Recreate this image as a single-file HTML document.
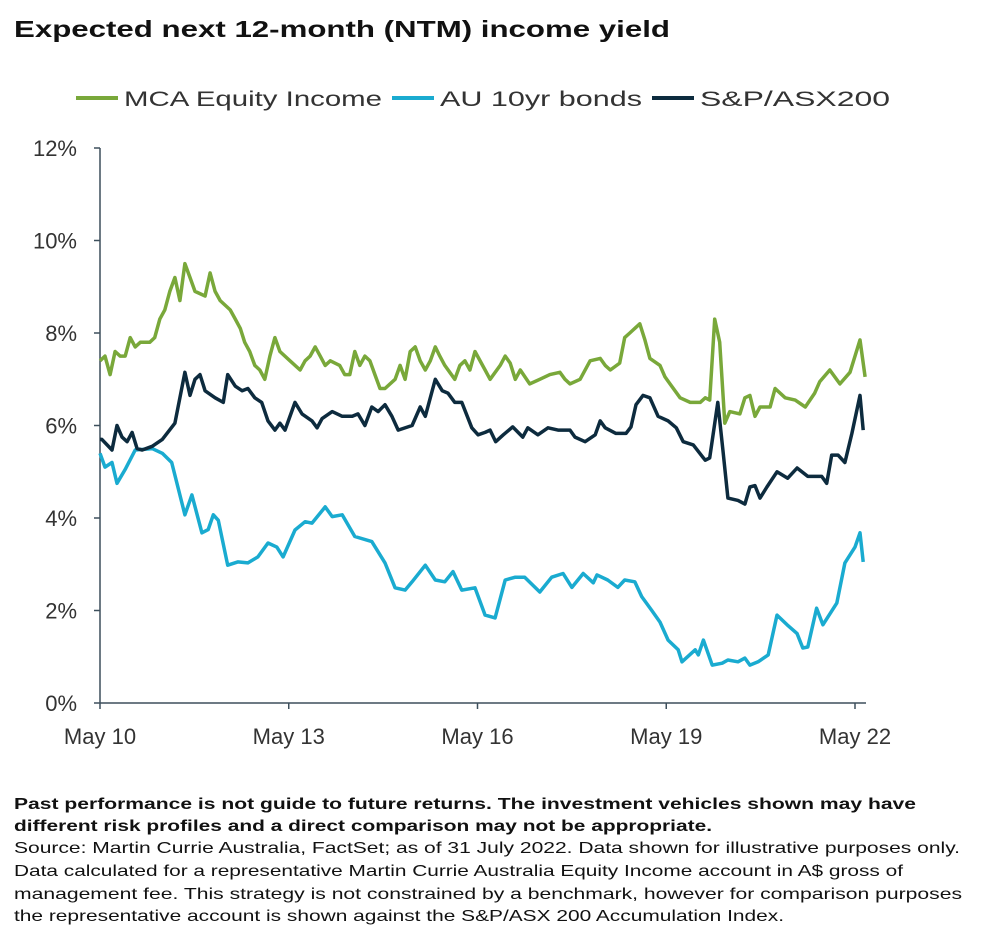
<!DOCTYPE html>
<html><head><meta charset="utf-8"><style>
body{margin:0;background:#fff;}
svg{display:block;font-family:"Liberation Sans",Arial,sans-serif;}
</style></head><body>
<svg id="chart" width="984" height="940" viewBox="0 0 984 940">
<text x="14" y="37" font-size="23" font-weight="bold" fill="#111" textLength="656" lengthAdjust="spacingAndGlyphs">Expected next 12-month (NTM) income yield</text>
<g>
 <g><line x1="76" y1="98" x2="118" y2="98" stroke="#79a83a" stroke-width="4"/><text x="124" y="106" font-size="21" fill="#333" textLength="258" lengthAdjust="spacingAndGlyphs">MCA Equity Income</text></g>
 <g><line x1="392" y1="98" x2="434" y2="98" stroke="#1aabd0" stroke-width="4"/><text x="440" y="106" font-size="21" fill="#333" textLength="202" lengthAdjust="spacingAndGlyphs">AU 10yr bonds</text></g>
 <g><line x1="652" y1="98" x2="694" y2="98" stroke="#0d2b3e" stroke-width="4"/><text x="700" y="106" font-size="21" fill="#333" textLength="190" lengthAdjust="spacingAndGlyphs">S&amp;P/ASX200</text></g>
</g>
<g id="axes"></g>
<g id="series"></g>
<g font-size="16" fill="#111">
 <text x="14" y="809" font-weight="bold" textLength="902" lengthAdjust="spacingAndGlyphs">Past performance is not guide to future returns. The investment vehicles shown may have</text>
 <text x="14" y="831" font-weight="bold" textLength="698" lengthAdjust="spacingAndGlyphs">different risk profiles and a direct comparison may not be appropriate.</text>
 <text x="14" y="853" textLength="946" lengthAdjust="spacingAndGlyphs">Source: Martin Currie Australia, FactSet; as of 31 July 2022. Data shown for illustrative purposes only.</text>
 <text x="14" y="876" textLength="889" lengthAdjust="spacingAndGlyphs">Data  calculated for a representative Martin Currie Australia Equity  Income  account in A$ gross of</text>
 <text x="14" y="899" textLength="948" lengthAdjust="spacingAndGlyphs">management  fee. This strategy is not constrained by a benchmark,  however for comparison purposes</text>
 <text x="14" y="921" textLength="770" lengthAdjust="spacingAndGlyphs">the representative account  is shown against the S&amp;P/ASX 200 Accumulation Index.</text>
</g>
</svg>
<script>
// years since May 2010
const yTicks = [0,2,4,6,8,10,12];
const xTickYears = [0,3,6,9,12];
const xTickLabels = ["May 10","May 13","May 16","May 19","May 22"];
const mcaT = [0,.08,.16,.24,.32,.40,.48,.56,.64,.79,.87,.95,1.03,1.11,1.19,1.27,1.35,1.43,1.51,1.67,1.75,1.83,1.91,2.07,2.15,2.23,2.30,2.38,2.46,2.54,2.62,2.70,2.78,2.86,3.02,3.18,3.26,3.34,3.42,3.50,3.58,3.66,3.81,3.89,3.97,4.05,4.13,4.21,4.29,4.37,4.45,4.53,4.69,4.77,4.85,4.93,5.01,5.09,5.17,5.25,5.33,5.40,5.48,5.64,5.72,5.80,5.88,5.96,6.12,6.20,6.36,6.44,6.52,6.60,6.68,6.83,6.99,7.15,7.31,7.39,7.47,7.63,7.79,7.95,8.03,8.11,8.26,8.34,8.42,8.58,8.66,8.74,8.90,8.98,9.06,9.22,9.38,9.54,9.62,9.69,9.77,9.85,9.93,10.01,10.17,10.25,10.33,10.41,10.49,10.65,10.73,10.89,11.05,11.21,11.36,11.44,11.60,11.76,11.92,12.00,12.08,12.16];
const mcaV = [7.4,7.5,7.1,7.6,7.5,7.5,7.9,7.7,7.8,7.8,7.9,8.3,8.5,8.9,9.2,8.7,9.5,9.2,8.9,8.8,9.3,8.9,8.7,8.5,8.3,8.1,7.8,7.6,7.3,7.2,7.0,7.5,7.9,7.6,7.4,7.2,7.4,7.5,7.7,7.5,7.3,7.4,7.3,7.1,7.1,7.6,7.3,7.5,7.4,7.1,6.8,6.8,7.0,7.3,7.0,7.6,7.7,7.4,7.2,7.4,7.7,7.5,7.3,7.0,7.3,7.4,7.2,7.6,7.2,7.0,7.3,7.5,7.35,7.0,7.2,6.9,7.0,7.1,7.15,7.0,6.9,7.0,7.4,7.45,7.3,7.2,7.35,7.9,8.0,8.2,7.85,7.45,7.3,7.05,6.9,6.6,6.5,6.5,6.6,6.55,8.3,7.8,6.05,6.3,6.25,6.6,6.65,6.2,6.4,6.4,6.8,6.6,6.55,6.4,6.7,6.95,7.2,6.9,7.15,7.5,7.85,7.05];
const asxT = [0,.03,.19,.27,.35,.43,.51,.59,.67,.83,.99,1.19,1.35,1.43,1.51,1.59,1.67,1.83,1.96,2.03,2.15,2.26,2.35,2.46,2.57,2.67,2.78,2.86,2.94,3.10,3.21,3.37,3.45,3.53,3.69,3.85,4.01,4.10,4.21,4.32,4.42,4.53,4.64,4.74,4.96,5.09,5.17,5.33,5.44,5.53,5.64,5.75,5.91,6.01,6.12,6.20,6.29,6.41,6.56,6.72,6.80,6.96,7.12,7.28,7.47,7.55,7.71,7.87,7.95,8.03,8.20,8.36,8.44,8.52,8.63,8.74,8.87,9.03,9.16,9.27,9.43,9.59,9.62,9.69,9.82,9.90,9.98,10.14,10.25,10.33,10.41,10.49,10.60,10.76,10.93,11.08,11.25,11.47,11.55,11.63,11.73,11.84,11.95,12.08,12.13];
const asxV = [5.7,5.7,5.47,6.0,5.75,5.65,5.85,5.5,5.47,5.55,5.7,6.05,7.15,6.65,7.0,7.1,6.75,6.6,6.5,7.1,6.85,6.75,6.8,6.6,6.5,6.1,5.9,6.05,5.9,6.5,6.25,6.1,5.95,6.15,6.3,6.2,6.2,6.25,6.0,6.4,6.3,6.45,6.2,5.9,6.0,6.4,6.2,7.0,6.75,6.7,6.5,6.5,5.95,5.8,5.85,5.9,5.65,5.8,5.97,5.75,5.95,5.8,5.95,5.9,5.9,5.75,5.65,5.8,6.1,5.95,5.83,5.83,5.97,6.45,6.65,6.6,6.2,6.1,5.95,5.65,5.58,5.3,5.25,5.3,6.5,5.47,4.43,4.38,4.3,4.67,4.7,4.43,4.67,5.0,4.86,5.08,4.9,4.9,4.75,5.36,5.36,5.2,5.83,6.65,5.9];
const bondT = [0,.08,.19,.27,.40,.56,.83,.99,1.14,1.35,1.46,1.62,1.72,1.80,1.88,2.03,2.19,2.35,2.51,2.67,2.81,2.91,3.10,3.26,3.37,3.58,3.69,3.85,4.05,4.32,4.53,4.69,4.85,4.96,5.17,5.33,5.48,5.61,5.75,5.96,6.12,6.28,6.44,6.60,6.75,6.99,7.18,7.36,7.50,7.68,7.84,7.90,8.07,8.23,8.34,8.50,8.61,8.77,8.90,9.03,9.19,9.25,9.46,9.51,9.59,9.73,9.89,9.98,10.14,10.25,10.33,10.46,10.62,10.76,10.92,11.08,11.17,11.25,11.39,11.49,11.71,11.84,12.00,12.08,12.13];
const bondV = [5.4,5.1,5.2,4.75,5.05,5.47,5.5,5.4,5.2,4.07,4.5,3.68,3.75,4.07,3.95,2.98,3.05,3.03,3.16,3.46,3.37,3.16,3.74,3.92,3.89,4.24,4.03,4.07,3.6,3.49,3.03,2.49,2.44,2.62,2.98,2.66,2.62,2.84,2.44,2.49,1.9,1.84,2.66,2.72,2.72,2.4,2.72,2.8,2.5,2.8,2.6,2.77,2.66,2.5,2.66,2.62,2.3,2.0,1.75,1.36,1.15,0.89,1.15,1.04,1.36,0.82,0.86,0.93,0.89,0.97,0.82,0.89,1.04,1.9,1.69,1.5,1.19,1.21,2.05,1.69,2.16,3.03,3.37,3.68,3.05];

const NS="http://www.w3.org/2000/svg";
const X0=100, X1=855, Y0=703, Y1=148;
const xs = t => X0 + t*(X1-X0)/12;
const ys = v => Y0 - v*(Y0-Y1)/12;
function mk(tag, attrs, parent){const e=document.createElementNS(NS,tag);for(const k in attrs)e.setAttribute(k,attrs[k]);parent.appendChild(e);return e;}
const axes=document.getElementById('axes'), series=document.getElementById('series');
const ax = mk('line',{x1:X0,y1:Y1,x2:X0,y2:Y0,stroke:'#3d4f5c','stroke-width':1.5},axes);


const bx = mk('line',{x1:X0,y1:Y0,x2:866,y2:Y0,stroke:'#3d4f5c','stroke-width':1.5},axes);


yTicks.forEach(v=>{
  mk('line',{x1:X0-6,y1:ys(v),x2:X0,y2:ys(v),stroke:'#3d4f5c','stroke-width':1.5},axes);
  const t=mk('text',{x:77,y:ys(v)+8,'text-anchor':'end','font-size':22,fill:'#333'},axes);
  t.textContent=v+'%';
  
  
});
xTickYears.forEach((yr,i)=>{
  mk('line',{x1:xs(yr),y1:Y0,x2:xs(yr),y2:Y0+6,stroke:'#3d4f5c','stroke-width':1.5},axes);
  const t=mk('text',{x:xs(yr),y:744,'text-anchor':'middle','font-size':22,fill:'#333'},axes);
  t.textContent=xTickLabels[i];
  
  
});
function line(T,V,color,name){
  const d=T.map((t,i)=>(i?'L':'M')+xs(t).toFixed(1)+' '+ys(V[i]).toFixed(1)).join(' ');
  const p=mk('path',{d:d,fill:'none',stroke:color,'stroke-width':3.5,'stroke-linejoin':'round'},series);
  
  
}
line(bondT,bondV,'#1aabd0','au-10yr-bonds-line');
line(asxT,asxV,'#0d2b3e','asx200-line');
line(mcaT,mcaV,'#79a83a','mca-equity-income-line');
</script>
</body></html>
